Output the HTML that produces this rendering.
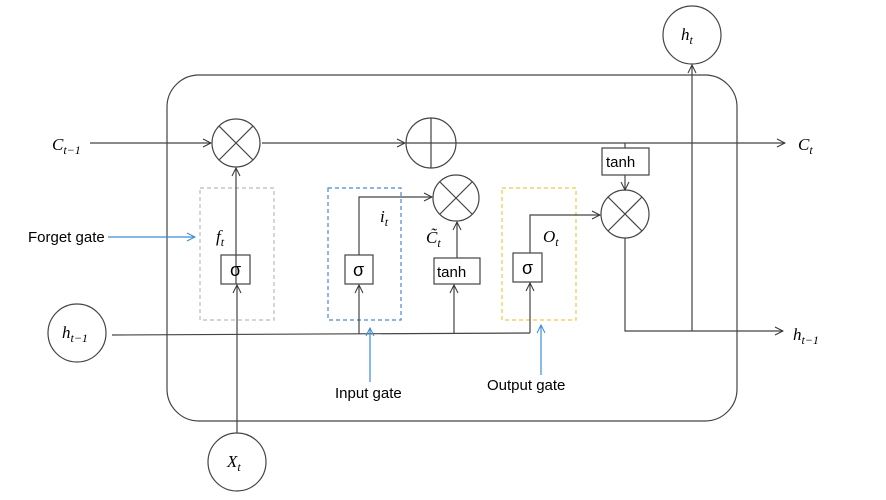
<!DOCTYPE html>
<html><head><meta charset="utf-8"><style>
body{margin:0;background:#fff}
svg{display:block}
text{font-family:"Liberation Serif",serif;font-style:italic;font-size:17px;fill:#000}
.s{font-family:"Liberation Sans",sans-serif;font-style:normal;font-size:18px}
.g{font-family:"Liberation Sans",sans-serif;font-style:normal;font-size:15px}
</style></head><body>
<svg width="886" height="500" viewBox="0 0 886 500" xmlns="http://www.w3.org/2000/svg">
<defs>
<marker id="a" markerWidth="10" markerHeight="10" refX="9" refY="5" orient="auto" markerUnits="userSpaceOnUse"><path d="M1,1 L9,5 L1,9" fill="none" stroke="#333" stroke-width="1"/></marker>
<marker id="b" markerWidth="10" markerHeight="10" refX="9" refY="5" orient="auto" markerUnits="userSpaceOnUse"><path d="M1,1 L9,5 L1,9" fill="none" stroke="#3a8fd8" stroke-width="1"/></marker>
</defs>
<g fill="none" stroke="#444" stroke-width="1.2">
<rect x="167" y="75" width="570" height="346" rx="32"/>
<rect x="200" y="188" width="74" height="132" stroke="#bbb" stroke-dasharray="4,3"/>
<rect x="328" y="188" width="73" height="132" stroke="#4a86d8" stroke-dasharray="4,3"/>
<rect x="502" y="188" width="74" height="132" stroke="#f2c84b" stroke-dasharray="4,3"/>
<circle cx="236" cy="143" r="24" fill="#fff"/>
<path d="M219,126 L253,160 M253,126 L219,160"/>
<circle cx="431" cy="143" r="25" fill="#fff"/>
<path d="M431,118 V168 M406,143 H456"/>
<circle cx="456" cy="198" r="23" fill="#fff"/>
<path d="M440,182 L472,214 M472,182 L440,214"/>
<circle cx="625" cy="214" r="24" fill="#fff"/>
<path d="M608,197 L642,231 M642,197 L608,231"/>
<circle cx="692" cy="35" r="29"/>
<circle cx="77" cy="333" r="29"/>
<circle cx="237" cy="462" r="29"/>
<rect x="221" y="255" width="29" height="29"/>
<rect x="345" y="255" width="28" height="29"/>
<rect x="434" y="258" width="46" height="26"/>
<rect x="513" y="253" width="29" height="29"/>
<rect x="602" y="148" width="47" height="27"/>
<path d="M90,143 H211" marker-end="url(#a)"/>
<path d="M262,143 H405" marker-end="url(#a)"/>
<path d="M456,143 H785" marker-end="url(#a)"/>
<path d="M236,284 V168" marker-end="url(#a)"/>
<path d="M237,433 V285" marker-end="url(#a)"/>
<path d="M112,335 L530,333"/>
<path d="M359,334 V285" marker-end="url(#a)"/>
<path d="M359,255 V197 H432" marker-end="url(#a)"/>
<path d="M454,334 V285" marker-end="url(#a)"/>
<path d="M457,258 V222" marker-end="url(#a)"/>
<path d="M530,333 V283" marker-end="url(#a)"/>
<path d="M530,253 V215 H600" marker-end="url(#a)"/>
<path d="M625,143 V148"/>
<path d="M625,175 V190" marker-end="url(#a)"/>
<path d="M625,238 V331 H783" marker-end="url(#a)"/>
<path d="M692,331 V65" marker-end="url(#a)"/>
</g>
<g fill="none" stroke="#3a8fd8" stroke-width="1.2">
<path d="M108,237 H195" marker-end="url(#b)"/>
<path d="M370,382 V328" marker-end="url(#b)"/>
<path d="M541,375 V325" marker-end="url(#b)"/>
</g>
<text x="52" y="150">C<tspan font-size="12" dy="4">t−1</tspan></text>
<text x="798" y="150">C<tspan font-size="12" dy="4">t</tspan></text>
<text x="681" y="40">h<tspan font-size="12" dy="4">t</tspan></text>
<text x="62" y="338">h<tspan font-size="12" dy="4">t−1</tspan></text>
<text x="793" y="340">h<tspan font-size="12" dy="4">t−1</tspan></text>
<text x="227" y="467">X<tspan font-size="12" dy="4">t</tspan></text>
<text x="216" y="242">f<tspan font-size="12" dy="4">t</tspan></text>
<text x="380" y="222">i<tspan font-size="12" dy="4">t</tspan></text>
<text x="426" y="243">C̃<tspan font-size="12" dy="4">t</tspan></text>
<text x="543" y="242">O<tspan font-size="12" dy="4">t</tspan></text>
<text class="s" x="230" y="276">σ</text>
<text class="s" x="353" y="276">σ</text>
<text class="s" x="522" y="274">σ</text>
<text class="g" x="437" y="277">tanh</text>
<text class="g" x="606" y="167">tanh</text>
<text class="g" x="28" y="242">Forget gate</text>
<text class="g" x="335" y="398">Input gate</text>
<text class="g" x="487" y="390">Output gate</text>
</svg>
</body></html>
